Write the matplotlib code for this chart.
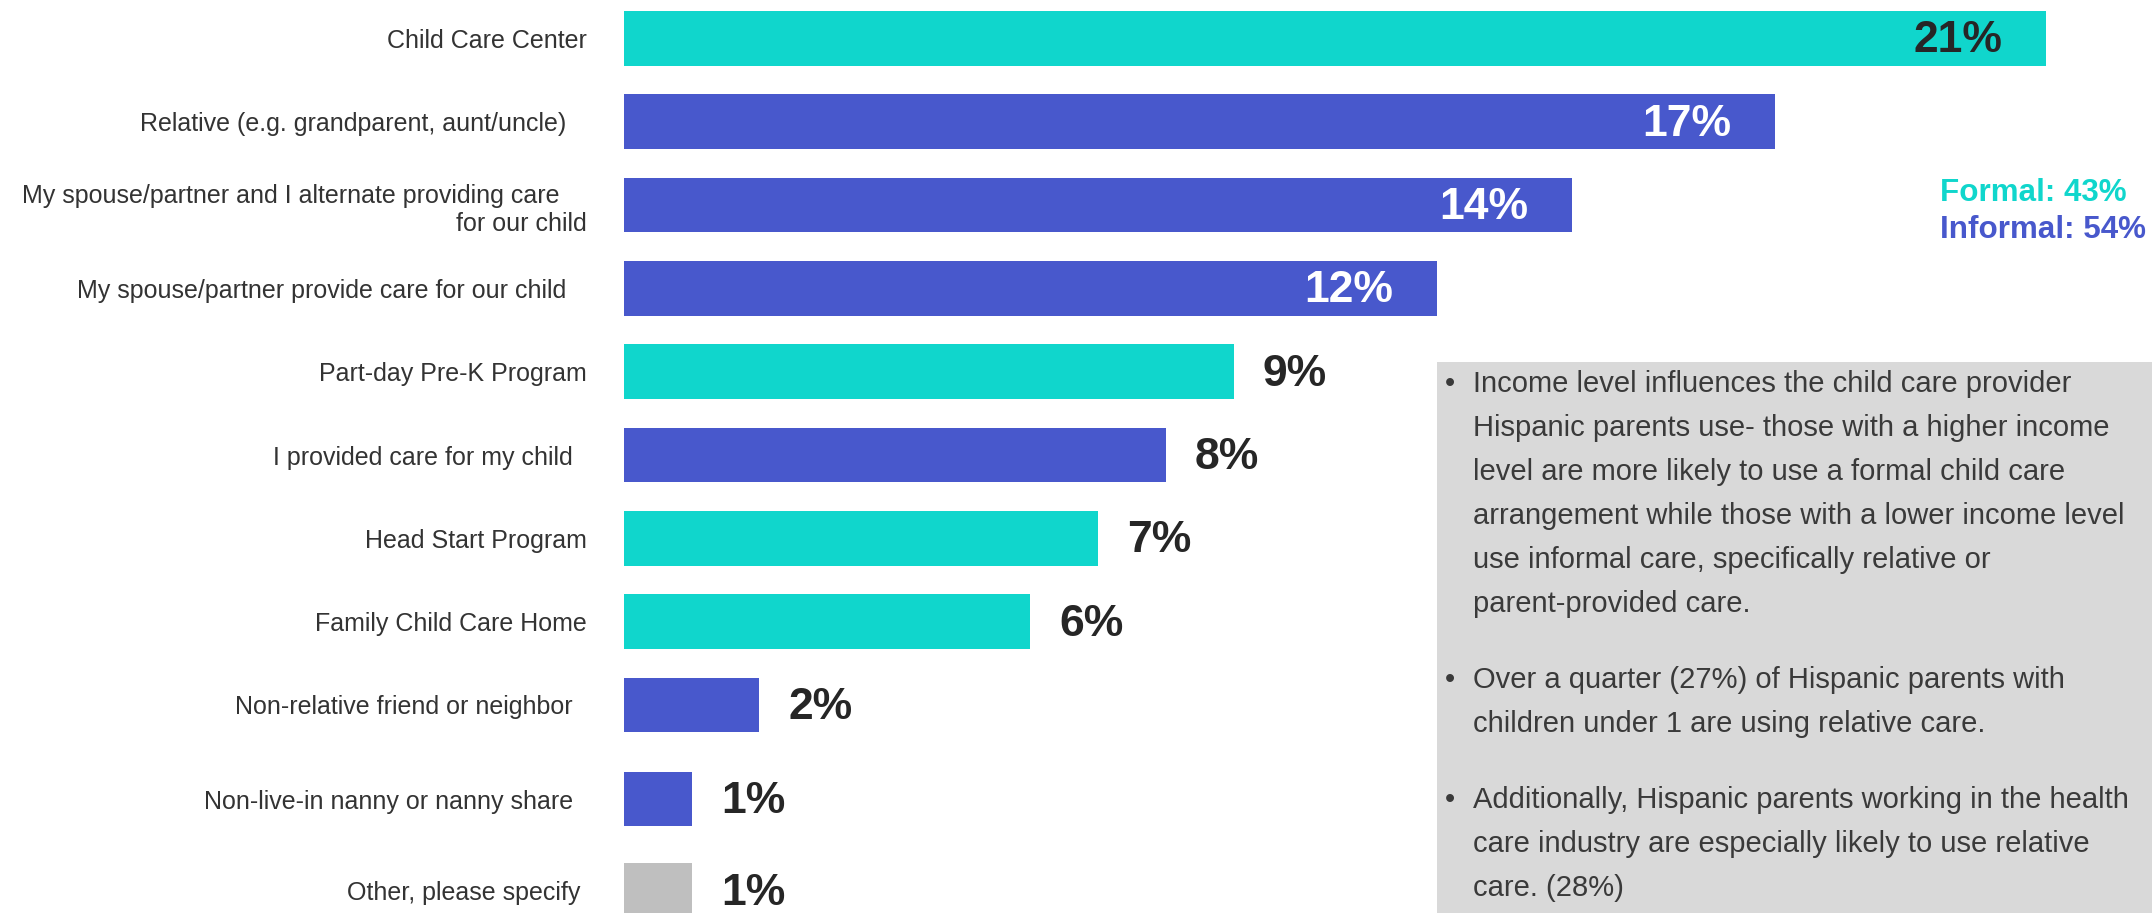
import numpy as np
import matplotlib
matplotlib.use("Agg")
import matplotlib.pyplot as plt
from matplotlib.patches import Rectangle

plt.rcParams['font.family'] = ['Liberation Sans', 'DejaVu Sans']

# --- data ---
labels = [
    "Child Care Center",
    "Relative (e.g. grandparent, aunt/uncle)   ",
    "My spouse/partner and I alternate providing care    \nfor our child",
    "My spouse/partner provide care for our child   ",
    "Part-day Pre-K Program",
    "I provided care for my child  ",
    "Head Start Program",
    "Family Child Care Home",
    "Non-relative friend or neighbor  ",
    "Non-live-in nanny or nanny share  ",
    "Other, please specify ",
]
values = [21, 17, 14, 12, 9, 8, 7, 6, 2, 1, 1]
care_type = ["formal", "informal", "informal", "informal", "formal", "informal",
             "formal", "formal", "informal", "informal", "other"]

summary_labels = ["Formal: 43%", "Informal: 54%"]
summary_types = ["formal", "informal"]

notes = [
    ["Income level influences the child care provider",
     "Hispanic parents use- those with a higher income",
     "level are more likely to use a formal child care",
     "arrangement while those with a lower income level",
     "use informal care, specifically relative or",
     "parent-provided care."],
    ["Over a quarter (27%) of Hispanic parents with",
     "children under 1 are using relative care."],
    ["Additionally, Hispanic parents working in the health",
     "care industry are especially likely to use relative",
     "care. (28%)"],
]

# --- style ---
palette = {"formal": "#10D6CC", "informal": "#4858CC", "other": "#BFBFBF"}
W, H = 2152, 913
px_per_pct = 67.73
label_color = "#333333"
note_color = "#3A3A3A"

fig = plt.figure(figsize=(W / 100, H / 100), dpi=100)
ax = fig.add_axes([624 / W, 0, 1528 / W, 1])

# last two rows sit a little lower in the original layout
ypos = np.arange(len(values)) + np.array([0] * 9 + [0.13, 0.23])
ax.barh(ypos, values, height=0.656, color=[palette[t] for t in care_type])
ax.set_xlim(0, 1528 / px_per_pct)
ax.set_ylim(10.498, -0.462)

ax.set_yticks(ypos)
ax.set_yticklabels(labels, fontsize=18, color=label_color, ha="right",
                   multialignment="right", linespacing=1.25)
ax.tick_params(axis="y", length=0, pad=26.6)
ax.set_xticks([])
for s in ax.spines.values():
    s.set_visible(False)

for y, v in zip(ypos, values):
    if v >= 12:
        col = "#262626" if v == max(values) else "white"
        ax.annotate(f"{v}%", (v, y), xytext=(-31.7, -1.8), textcoords="offset points",
                    ha="right", va="center", fontsize=32, fontweight="bold", color=col)
    else:
        ax.annotate(f"{v}%", (v, y), xytext=(20.9, -1.8), textcoords="offset points",
                    ha="left", va="center", fontsize=32, fontweight="bold", color="#262626")

# formal / informal summary
for i, (txt, t) in enumerate(zip(summary_labels, summary_types)):
    fig.text(1940 / W, 1 - (201 + 37 * i) / H, txt, fontsize=22.6, fontweight="bold",
             color=palette[t], ha="left", va="baseline")

# grey notes box
box = Rectangle((1437 / W, 0), 1 - 1437 / W, (H - 362) / H, transform=fig.transFigure,
                facecolor="#D9D9D9", edgecolor="none", zorder=5)
fig.patches.append(box)

y = 384
for para in notes:
    fig.text(1445 / W, 1 - y / H, "•", fontsize=21, color=note_color, va="center", zorder=6)
    for line in para:
        fig.text(1473 / W, 1 - y / H, line, fontsize=21, color=note_color,
                 va="center", zorder=6)
        y += 44
    y += 32

fig.savefig("out.png", dpi=100)
